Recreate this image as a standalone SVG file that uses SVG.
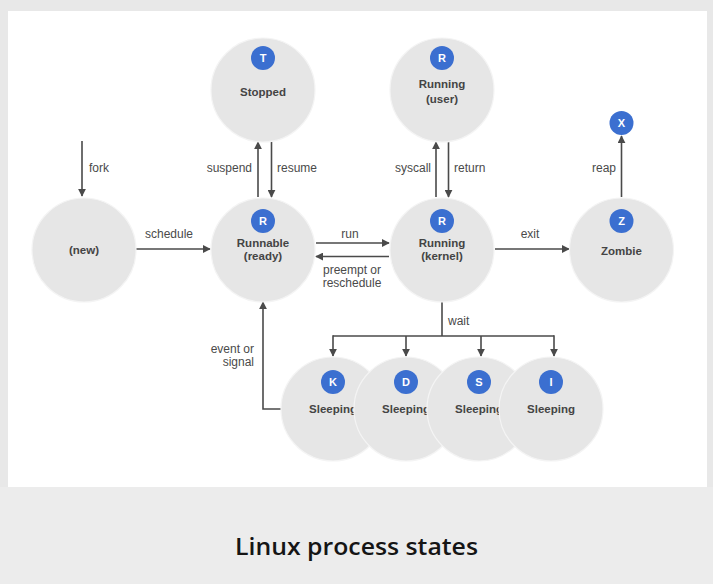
<svg xmlns="http://www.w3.org/2000/svg" width="713" height="584" viewBox="0 0 713 584">
<defs>
<marker id="ah" viewBox="0 0 10 10" refX="9" refY="5" markerWidth="8" markerHeight="8" markerUnits="userSpaceOnUse" orient="auto">
<path d="M0,0 L10,5 L0,10 z" fill="#4a4a4a"/>
</marker>
<style>
.node{fill:#e6e6e6;stroke:#f4f4f4;stroke-width:1.2}
.badge{fill:#3b6fd0}
.bt{font-family:"Liberation Sans",Arial,sans-serif;font-size:11px;font-weight:bold;fill:#ffffff;text-anchor:middle}
.nt{font-family:"Liberation Sans",Arial,sans-serif;font-size:11.5px;font-weight:bold;fill:#444444;text-anchor:middle}
.lb{font-family:"Liberation Sans",Arial,sans-serif;font-size:12px;fill:#4a4a4a}
.ln{fill:none;stroke:#4a4a4a;stroke-width:1.6}
.ar{fill:none;stroke:#4a4a4a;stroke-width:1.6;marker-end:url(#ah)}
</style>
</defs>
<rect x="0" y="0" width="713" height="584" fill="#e8e8e8"/>
<rect x="8" y="11" width="699" height="476" fill="#ffffff"/>
<rect x="0" y="487" width="713" height="97" fill="#ececec"/>
<text x="235" y="555" font-family="'Open Sans','Liberation Sans',Arial,sans-serif" font-size="23" font-weight="600" fill="#151515" textLength="243" lengthAdjust="spacingAndGlyphs">Linux process states</text>

<g id="connectors">
<line class="ar" x1="82" y1="141" x2="82" y2="196"/>
<text class="lb" x="89" y="172">fork</text>
<line class="ar" x1="136" y1="249" x2="210" y2="249"/>
<text class="lb" x="169" y="238" text-anchor="middle">schedule</text>
<line class="ar" x1="258" y1="197" x2="258" y2="142"/>
<line class="ar" x1="271.5" y1="142" x2="271.5" y2="197"/>
<text class="lb" x="252" y="172" text-anchor="end">suspend</text>
<text class="lb" x="277" y="172">resume</text>
<line class="ar" x1="316" y1="243" x2="389" y2="243"/>
<line class="ar" x1="389" y1="256.5" x2="316" y2="256.5"/>
<text class="lb" x="350" y="238" text-anchor="middle">run</text>
<text class="lb" x="352" y="274" text-anchor="middle">preempt or</text>
<text class="lb" x="352" y="287" text-anchor="middle">reschedule</text>
<line class="ar" x1="436" y1="197" x2="436" y2="142"/>
<line class="ar" x1="448.5" y1="142" x2="448.5" y2="197"/>
<text class="lb" x="431" y="172" text-anchor="end">syscall</text>
<text class="lb" x="454" y="172">return</text>
<line class="ar" x1="495" y1="249" x2="569" y2="249"/>
<text class="lb" x="530" y="238" text-anchor="middle">exit</text>
<line class="ar" x1="621.5" y1="197" x2="621.5" y2="136"/>
<text class="lb" x="616" y="172" text-anchor="end">reap</text>
<polyline class="ln" points="442,302 442,336"/>
<polyline class="ln" points="333,336 554,336"/>
<line class="ar" x1="333" y1="335.2" x2="333" y2="356"/>
<line class="ar" x1="406" y1="336" x2="406" y2="356"/>
<line class="ar" x1="481" y1="336" x2="481" y2="356"/>
<line class="ar" x1="554" y1="335.2" x2="554" y2="356"/>
<text class="lb" x="448" y="325">wait</text>
<polyline class="ar" points="281,409 263,409 263,302"/>
<text class="lb" x="254" y="353" text-anchor="end">event or</text>
<text class="lb" x="254" y="366" text-anchor="end">signal</text>
</g>

<g id="node-new">
<circle class="node" cx="84" cy="250" r="52"/>
<text class="nt" x="84" y="254">(new)</text>
</g>
<g id="node-stopped">
<circle class="node" cx="263" cy="90" r="52"/>
<circle class="badge" cx="263" cy="58" r="12"/>
<text class="bt" x="263" y="62">T</text>
<text class="nt" x="263" y="96">Stopped</text>
</g>
<g id="node-runnable">
<circle class="node" cx="263" cy="250" r="52"/>
<circle class="badge" cx="263" cy="221" r="12"/>
<text class="bt" x="263" y="225">R</text>
<text class="nt" x="263" y="247">Runnable</text>
<text class="nt" x="263" y="260">(ready)</text>
</g>
<g id="node-running-user">
<circle class="node" cx="442" cy="90" r="52"/>
<circle class="badge" cx="442" cy="58" r="12"/>
<text class="bt" x="442" y="62">R</text>
<text class="nt" x="442" y="88">Running</text>
<text class="nt" x="442" y="103">(user)</text>
</g>
<g id="node-running-kernel">
<circle class="node" cx="442" cy="250" r="52"/>
<circle class="badge" cx="442" cy="221" r="12"/>
<text class="bt" x="442" y="225">R</text>
<text class="nt" x="442" y="247">Running</text>
<text class="nt" x="442" y="260">(kernel)</text>
</g>
<g id="node-zombie">
<circle class="node" cx="621.5" cy="250" r="52"/>
<circle class="badge" cx="621.5" cy="221" r="12"/>
<text class="bt" x="621.5" y="225">Z</text>
<text class="nt" x="621.5" y="255">Zombie</text>
</g>
<g id="node-x">
<circle class="badge" cx="621.5" cy="123" r="12"/>
<text class="bt" x="621.5" y="127">X</text>
</g>
<g id="node-sleep-k">
<circle class="node" cx="333" cy="409" r="52"/>
<circle class="badge" cx="333" cy="382" r="12"/>
<text class="bt" x="333" y="386">K</text>
<text class="nt" x="333" y="413">Sleeping</text>
</g>
<g id="node-sleep-d">
<circle class="node" cx="406" cy="409" r="52"/>
<circle class="badge" cx="406" cy="382" r="12"/>
<text class="bt" x="406" y="386">D</text>
<text class="nt" x="406" y="413">Sleeping</text>
</g>
<g id="node-sleep-s">
<circle class="node" cx="479" cy="409" r="52"/>
<circle class="badge" cx="479" cy="382" r="12"/>
<text class="bt" x="479" y="386">S</text>
<text class="nt" x="479" y="413">Sleeping</text>
</g>
<g id="node-sleep-i">
<circle class="node" cx="551" cy="409" r="52"/>
<circle class="badge" cx="551" cy="382" r="12"/>
<text class="bt" x="551" y="386">I</text>
<text class="nt" x="551" y="413">Sleeping</text>
</g>
</svg>
